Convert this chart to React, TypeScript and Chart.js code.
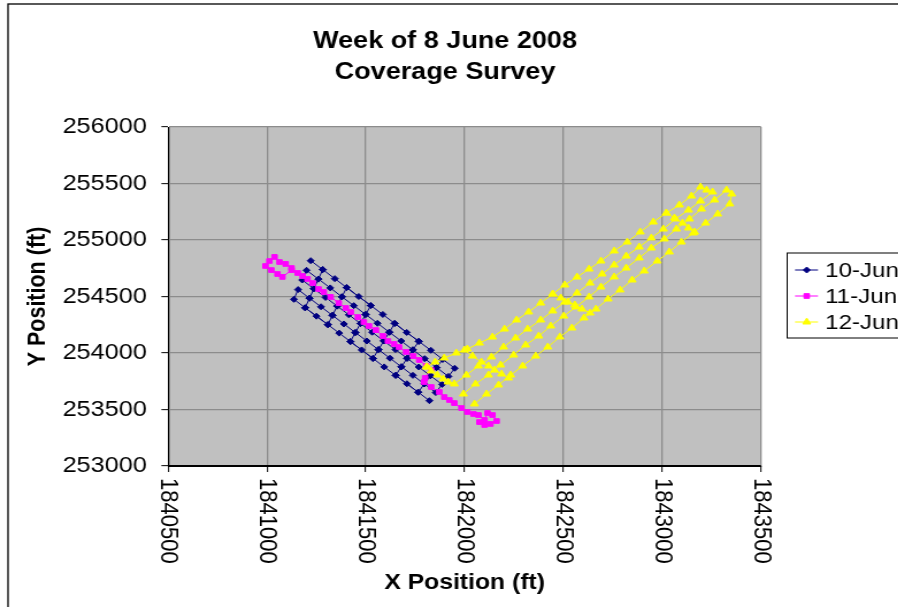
import React, { useEffect, useRef } from 'react';
import { Chart, registerables } from 'chart.js';

Chart.register(...registerables);

const TITLE_LINES = ['Week of 8 June 2008', 'Coverage Survey'];
const X_AXIS_TITLE = 'X Position (ft)';
const Y_AXIS_TITLE = 'Y Position (ft)';
const SERIES_NAMES = ['10-Jun', '11-Jun', '12-Jun'];
const X_TICKS = [1840500, 1841000, 1841500, 1842000, 1842500, 1843000, 1843500];
const Y_TICKS = [253000, 253500, 254000, 254500, 255000, 255500, 256000];

// 10-Jun survey track (null = break in the track)
const JUN10_X = [
  1841221, 1841282, 1841343, 1841403, 1841464, 1841525, 1841586, 1841646, 1841707, 1841768, 1841829, 1841889, 1841950,
  1841918, 1841858, 1841798, 1841738, 1841679, 1841619, 1841559, 1841499, 1841439, 1841379, 1841320, 1841260, 1841200,
  1841178, 1841237, 1841296, 1841355, 1841414, 1841473, 1841532, 1841591, 1841650, 1841709, 1841768, 1841827, 1841886,
  1841854, 1841796, 1841738, 1841680, 1841622, 1841564, 1841505, 1841447, 1841389, 1841331, 1841273, 1841215, 1841157,
  1841136, 1841193, 1841250, 1841308, 1841365, 1841422, 1841479, 1841536, 1841593, 1841651, 1841708, 1841765, 1841822,
  null,
  1841282, 1841260, 1841237, 1841215, 1841193,
  1841308, 1841331, 1841355, 1841379, 1841403,
  1841525, 1841499, 1841473, 1841447, 1841422,
  1841536, 1841564, 1841591, 1841619, 1841646,
  1841768, 1841738, 1841709, 1841680, 1841651,
  1841765, 1841796, 1841827, 1841858, 1841889,
];
const JUN10_Y = [
  254817, 254738, 254658, 254579, 254500, 254420, 254341, 254262, 254182, 254103, 254024, 253944, 253865,
  253793, 253871, 253950, 254028, 254106, 254184, 254263, 254341, 254419, 254497, 254576, 254654, 254732,
  254646, 254569, 254492, 254415, 254338, 254261, 254184, 254107, 254030, 253953, 253876, 253799, 253722,
  253650, 253726, 253802, 253878, 253954, 254030, 254106, 254181, 254257, 254333, 254409, 254485, 254561,
  254475, 254400, 254326, 254251, 254176, 254101, 254027, 253952, 253877, 253802, 253728, 253653, 253578,
  null,
  254738, 254654, 254569, 254485, 254400,
  254251, 254333, 254415, 254497, 254579,
  254420, 254341, 254261, 254181, 254101,
  253952, 254030, 254107, 254184, 254262,
  254103, 254028, 253953, 253878, 253802,
  253653, 253726, 253799, 253871, 253944,
];

// 11-Jun survey track
const JUN11_X = [
  1841124, 1841078, 1841053, 1841022, 1840992, 1841012, 1841038, 1841063, 1841094, 1841124,
  1841155, 1841180, 1841205, 1841231, 1841261, 1841287, 1841322, 1841363, 1841399, 1841424,
  1841460, 1841490, 1841516, 1841551, 1841587, 1841612, 1841643, 1841668, 1841704, 1841740,
  1841770, 1841806, 1841831, 1841800, 1841795, 1841831, 1841872, 1841897, 1841923, 1841948,
  1841984, 1842014, 1842045, 1842070, 1842101, 1842116, 1842141, 1842162, 1842131, 1842101, 1842075,
];
const JUN11_Y = [
  254734, 254673, 254699, 254734, 254770, 254814, 254850, 254805, 254788, 254752,
  254708, 254681, 254655, 254619, 254566, 254540, 254496, 254442, 254398, 254363,
  254318, 254274, 254239, 254203, 254150, 254106, 254080, 254053, 254009, 253973,
  253938, 253885, 253849, 253779, 253743, 253699, 253655, 253610, 253584, 253557,
  253513, 253478, 253460, 253451, 253407, 253469, 253451, 253398, 253372, 253363, 253389,
];

// 12-Jun survey track
const JUN12_X = [
  1841806, 1841831, 1841862, 1841892, 1841917,
  1841948, 1842009, 1842070, 1842136, 1842197, 1842258, 1842319, 1842385, 1842446, 1842507, 1842569,
  1842635, 1842696, 1842757, 1842818, 1842884, 1842945, 1843006, 1843067, 1843133, 1843194, 1843255,
  1843225,
  1843194, 1843148, 1843087, 1843021, 1842955, 1842889, 1842823, 1842757, 1842690, 1842630, 1842569,
  1842507, 1842446, 1842385, 1842324, 1842263, 1842202, 1842141, 1842075, 1842014, 1841958, 1841897, 1841851, 1841811,
  null,
  1841994, 1842055, 1842121, 1842182, 1842248, 1842309, 1842375, 1842436, 1842502, 1842563, 1842630,
  1842690, 1842757, 1842818, 1842884, 1842945, 1843011, 1843072, 1843138, 1843199, 1843265, 1843326,
  1843352,
  1843342, 1843281, 1843220, 1843158, 1843097, 1843036, 1842975, 1842909, 1842848, 1842787, 1842726,
  1842665, 1842604, 1842543, 1842482, 1842421, 1842360, 1842294, 1842233, 1842172, 1842111, 1842050,
  null,
  1841999, 1842040, 1842085, 1842121, 1842151, 1842187, 1842223,
  null,
  1842446, 1842487, 1842523, 1842558, 1842594, 1842635,
  null,
  1843021, 1843062, 1843103, 1843133, 1843164,
];
const JUN12_Y = [
  253876, 253841, 253805, 253770, 253743,
  253726, 253805, 253885, 253965, 254053, 254133, 254212, 254292, 254372, 254451, 254531,
  254619, 254699, 254779, 254858, 254938, 255018, 255097, 255186, 255265, 255345, 255425,
  255442,
  255469, 255389, 255310, 255239, 255159, 255071, 254982, 254903, 254814, 254743, 254672,
  254602, 254522, 254442, 254363, 254292, 254212, 254141, 254088, 254035, 254000, 253956, 253920, 253876,
  null,
  253637, 253726, 253805, 253894, 253982, 254071, 254150, 254239, 254327, 254407, 254496,
  254584, 254673, 254752, 254841, 254929, 255009, 255097, 255186, 255274, 255354, 255442,
  255407,
  255319, 255230, 255150, 255062, 254982, 254894, 254814, 254726, 254646, 254558, 254478,
  254389, 254310, 254221, 254142, 254053, 253973, 253885, 253805, 253717, 253637, 253549,
  null,
  254026, 253973, 253920, 253885, 253849, 253814, 253779,
  null,
  254522, 254487, 254451, 254425, 254389, 254354,
  null,
  255239, 255195, 255150, 255106, 255071,
];

const SERIES_COLORS = ['#000080', '#FF00FF', '#FFFF00'];
const SERIES_MARKERS = ['rectRot', 'rect', 'triangle'];
const SERIES_RADII = [3, 3.3, 4];

// layout (canvas units; the canvas is stretched horizontally like the source image)
const SX = 1.15;
const W = 781;
const H = 607;
const AREA = { left: 146.3, right: 661.7, top: 127, bottom: 466 };
const FONT = '"Liberation Sans", Arial, Helvetica, sans-serif';
const GRID = '#8c8c8c';
const PLOT_BG = '#C0C0C0';

const toPoints = (xs: (number | null)[], ys: (number | null)[]) =>
  xs.map((x, i) => (x === null || ys[i] === null ? { x: null, y: null } : { x, y: ys[i] }));

function drawMarker(ctx: CanvasRenderingContext2D, style: string, x: number, y: number, r: number) {
  ctx.beginPath();
  if (style === 'rectRot') {
    ctx.moveTo(x, y - r);
    ctx.lineTo(x + r, y);
    ctx.lineTo(x, y + r);
    ctx.lineTo(x - r, y);
  } else if (style === 'rect') {
    const s = r * Math.SQRT1_2;
    ctx.rect(x - s, y - s, 2 * s, 2 * s);
  } else {
    ctx.moveTo(x, y - r);
    ctx.lineTo(x + r * Math.sin((2 * Math.PI) / 3), y + r / 2);
    ctx.lineTo(x - r * Math.sin((2 * Math.PI) / 3), y + r / 2);
  }
  ctx.closePath();
  ctx.fill();
  ctx.stroke();
}

const backgroundPlugin = {
  id: 'plotBackground',
  beforeDraw(chart: any) {
    const { ctx, chartArea } = chart;
    ctx.save();
    ctx.fillStyle = PLOT_BG;
    ctx.fillRect(chartArea.left, chartArea.top, chartArea.right - chartArea.left, chartArea.bottom - chartArea.top);
    ctx.strokeStyle = '#000';
    ctx.lineWidth = 1.3;
    ctx.strokeRect(7, 4, W + 20, H + 20);
    ctx.restore();
  },
};

const decorPlugin = {
  id: 'decor',
  afterDraw(chart: any) {
    const { ctx } = chart;
    const xs = chart.scales.x;
    ctx.save();
    // title
    ctx.fillStyle = '#000';
    ctx.textAlign = 'center';
    ctx.textBaseline = 'alphabetic';
    ctx.font = `bold 23.5px ${FONT}`;
    ctx.fillText(TITLE_LINES[0], 387, 48);
    ctx.fillText(TITLE_LINES[1], 387, 79);

    // rotated x tick labels (reading top to bottom)
    ctx.font = `22px ${FONT}`;
    X_TICKS.forEach((v) => {
      const px = xs.getPixelForValue(v);
      ctx.save();
      ctx.translate(px, 478);
      ctx.rotate(Math.PI / 2);
      ctx.textAlign = 'left';
      ctx.textBaseline = 'middle';
      ctx.fillText(String(v), 0, 0);
      ctx.restore();
    });

    // legend
    const lx = 684.5;
    const ly = 253;
    ctx.strokeStyle = '#000';
    ctx.lineWidth = 1;
    ctx.strokeRect(lx, ly, 200, 85);
    ctx.font = `21px ${FONT}`;
    ctx.textAlign = 'left';
    ctx.textBaseline = 'middle';
    SERIES_NAMES.forEach((name, i) => {
      const y = 270 + 26 * i;
      ctx.strokeStyle = SERIES_COLORS[i];
      ctx.fillStyle = SERIES_COLORS[i];
      ctx.lineWidth = 1;
      ctx.beginPath();
      ctx.moveTo(691.3, y);
      ctx.lineTo(711.3, y);
      ctx.stroke();
      drawMarker(ctx, SERIES_MARKERS[i], 701.5, y, SERIES_RADII[i]);
      ctx.fillStyle = '#000';
      ctx.fillText(name, 717.5, y + 1);
    });
    ctx.restore();
  },
};

export default function App() {
  const ref = useRef<HTMLCanvasElement>(null);

  useEffect(() => {
    const canvas = ref.current;
    if (!canvas) return;
    Chart.defaults.font.family = FONT;
    const series = [
      [JUN10_X, JUN10_Y],
      [JUN11_X, JUN11_Y],
      [JUN12_X, JUN12_Y],
    ];
    const chart = new Chart(canvas, {
      type: 'scatter',
      data: {
        datasets: series.map(([xs, ys], i) => ({
          label: SERIES_NAMES[i],
          data: toPoints(xs as any, ys as any),
          showLine: true,
          spanGaps: false,
          borderColor: SERIES_COLORS[i],
          backgroundColor: SERIES_COLORS[i],
          borderWidth: 1,
          pointStyle: SERIES_MARKERS[i],
          pointRadius: SERIES_RADII[i],
          pointBorderWidth: 1,
          pointBorderColor: SERIES_COLORS[i],
          pointBackgroundColor: SERIES_COLORS[i],
          order: 3 - i,
        })) as any,
      },
      options: {
        animation: false,
        responsive: false,
        devicePixelRatio: 1,
        events: [],
        layout: { padding: { left: 0, top: AREA.top, right: W - AREA.right, bottom: 0 } },
        plugins: {
          legend: { display: false },
          title: { display: false },
          tooltip: { enabled: false },
        },
        scales: {
          x: {
            type: 'linear',
            position: 'bottom',
            min: X_TICKS[0],
            max: X_TICKS[X_TICKS.length - 1],
            afterBuildTicks: (s: any) => {
              s.ticks = X_TICKS.map((v) => ({ value: v }));
            },
            afterFit: (s: any) => {
              s.height = H - AREA.bottom;
            },
            ticks: { display: false },
            grid: {
              color: (c: any) => (c.index === 0 ? '#000' : GRID),
              lineWidth: 1.3,
              tickColor: '#000',
              tickLength: 6,
              tickWidth: 1,
            },
            border: { color: '#000', width: 1 },
            title: {
              display: true,
              text: X_AXIS_TITLE,
              color: '#000',
              font: { size: 21.5, weight: 'bold', family: FONT },
              padding: { top: 0, bottom: 11 },
            },
          },
          y: {
            type: 'linear',
            position: 'left',
            min: Y_TICKS[0],
            max: Y_TICKS[Y_TICKS.length - 1],
            afterBuildTicks: (s: any) => {
              s.ticks = Y_TICKS.map((v) => ({ value: v }));
            },
            afterFit: (s: any) => {
              s.width = AREA.left;
            },
            ticks: {
              color: '#000',
              font: { size: 22, family: FONT },
              padding: 12.5,
              callback: (v: any) => String(v),
            },
            grid: {
              color: (c: any) => (c.index === 0 ? '#000' : GRID),
              lineWidth: 1.3,
              tickColor: '#000',
              tickLength: 6,
              tickWidth: 1,
            },
            border: { color: '#000', width: 1 },
            title: {
              display: true,
              text: Y_AXIS_TITLE,
              color: '#000',
              font: { size: 21.5, weight: 'bold', family: FONT },
              padding: { top: 20, bottom: 0 },
            },
          },
        },
      } as any,
      plugins: [backgroundPlugin, decorPlugin],
    });
    return () => chart.destroy();
  }, []);

  return (
    <div
      style={{
        position: 'absolute',
        left: 0,
        top: 0,
        width: 898,
        height: 607,
        overflow: 'hidden',
        background: '#fff',
      }}
    >
      <div style={{ width: W, height: H, transform: `scaleX(${SX})`, transformOrigin: '0 0' }}>
        <canvas ref={ref} width={W} height={H} style={{ display: 'block', width: `${W}px`, height: `${H}px` }} />
      </div>
    </div>
  );
}
